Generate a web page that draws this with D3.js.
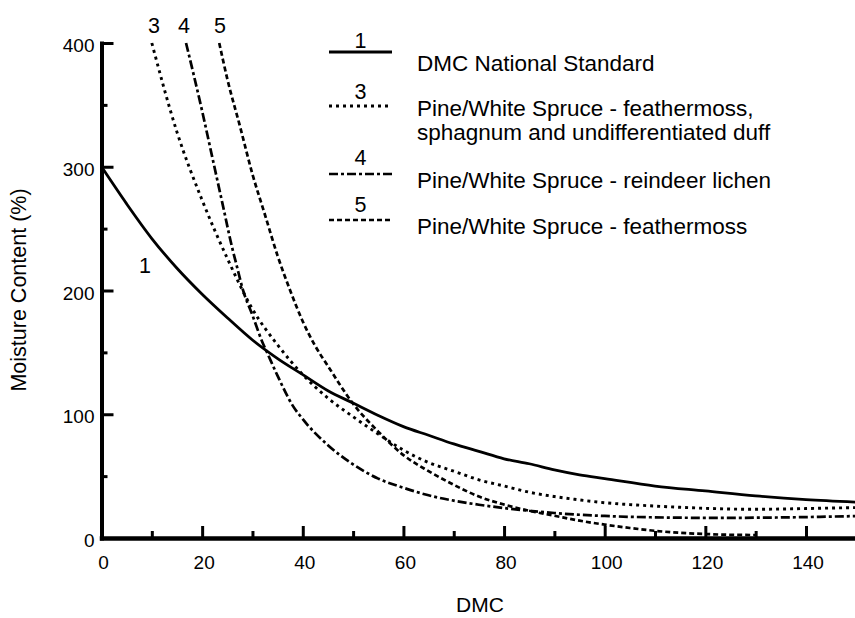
<!DOCTYPE html>
<html><head><meta charset="utf-8">
<script src="https://cdn.jsdelivr.net/npm/d3@7"></script>
<style>
body{margin:0;background:#fff;}
svg{display:block;font-family:"Liberation Sans",Arial,Helvetica,sans-serif;}
</style></head><body>
<svg id="chart" width="855" height="618"></svg>
<script>
// ---- data ----
const xTickValues = [0, 20, 40, 60, 80, 100, 120, 140];
const xMinorTicks = [10, 30, 50, 70, 90, 110, 130];
const yTickValues = [0, 100, 200, 300, 400];
const yMinorTicks = [50, 150, 250, 350];

const seriesIds = ["1", "3", "4", "5"];
const seriesNames = [
  ["DMC National Standard"],
  ["Pine/White Spruce - feathermoss,", "sphagnum and undifferentiated duff"],
  ["Pine/White Spruce - reindeer lichen"],
  ["Pine/White Spruce - feathermoss"]
];

// 1: DMC National Standard
const dmc1 = [0,5,10,15,20,25,30,35,40,45,50,55,60,65,70,75,80,85,90,95,100,110,120,130,140,150];
const mc1  = [300,270,242,218,197,178,160,145,132,119,109,99,90,83,76,70,64,60,55,51,48,42,38,34,31,29];

// 3: Pine/White Spruce - feathermoss, sphagnum and undifferentiated duff
const dmc3 = [10,15,20,25,30,35,40,45,50,55,60,65,70,75,80,85,90,95,100,105,110,115,120,125,130,135,140,145,150];
const mc3  = [400,328,273,226,185,156,132,113,98,84,71,61,54,47,42,37,33.5,30.8,28.5,27,25.8,24.8,24,23.4,23.2,23.4,23.8,24.2,24.6];

// 4: Pine/White Spruce - reindeer lichen
const dmc4 = [16.8,20,22,24,26,27,28,30,32,33,35,38,40,45,50,55,60,65,70,75,80,85,90,95,100,105,110,115,120,125,130,135,140,145,150];
const mc4  = [400,345,308,271,234,218,202,180,158,149,131,107,96,75,59.5,48,40.6,34.5,30.2,26.9,24.2,22,20.2,18.8,17.8,17.1,16.7,16.4,16.3,16.3,16.4,16.6,16.9,17.3,17.7];

// 5: Pine/White Spruce - feathermoss
const dmc5 = [23.4,25,27.5,30,32.5,35,37.5,40,42.5,45,50,55,60,65,70,75,80,85,90,95,100,105,110,115,120,125,130];
const mc5  = [400,371,333,294,261,228,200,175,155,139,108.5,86,67,54,43,33.5,27,22,18,14,10.8,8.1,5.8,4.2,3.2,2.6,2.4];

// ---- drawing ----
const svg = d3.select("#chart");
const x = d3.scaleLinear().domain([0, 150]).range([101.5, 856.3]);
const y = d3.scaleLinear().domain([0, 400]).range([538, 43]);

const series = [
  {id: "1", xs: dmc1, ys: mc1, dash: null, w: 2.8},
  {id: "3", xs: dmc3, ys: mc3, dash: "3,4", w: 2.9},
  {id: "4", xs: dmc4, ys: mc4, dash: "9,3,3,3", w: 2.7},
  {id: "5", xs: dmc5, ys: mc5, dash: "5,3", w: 2.7}
];

const line = d3.line().x(d => x(d[0])).y(d => y(d[1])).curve(d3.curveMonotoneX);

svg.append("g").selectAll("path").data(series).join("path")
  .attr("d", s => line(s.xs.map((v, i) => [v, s.ys[i]])))
  .attr("fill", "none").attr("stroke", "#000")
  .attr("stroke-width", s => s.w)
  .attr("stroke-dasharray", s => s.dash);

// axes
function styleAxis(g, tw) {
  g.selectAll(".tick line").attr("stroke", "#000").attr("stroke-width", tw);
  g.selectAll(".tick text").attr("fill", "#000").attr("font-size", 19)
    .attr("font-family", '"Liberation Sans",Arial,sans-serif');
}
const yMinor = svg.append("g").attr("transform", `translate(${x(0)},0)`)
  .call(d3.axisLeft(y).tickValues(yMinorTicks).tickSize(-6).tickFormat(""));
yMinor.select(".domain").remove(); styleAxis(yMinor, 3);
const xMinor = svg.append("g").attr("transform", `translate(0,${y(0)})`)
  .call(d3.axisBottom(x).tickValues(xMinorTicks).tickSize(-7).tickFormat(""));
xMinor.select(".domain").remove(); styleAxis(xMinor, 3);

const yAx = svg.append("g").attr("transform", `translate(${x(0)},0)`)
  .call(d3.axisLeft(y).tickValues(yTickValues).tickSize(-12).tickSizeOuter(0).tickPadding(7));
yAx.select(".domain").attr("stroke", "#000").attr("stroke-width", 4).attr("stroke-linecap", "square");
styleAxis(yAx, 3);
yAx.selectAll(".tick text").attr("dy", "0.45em");

const xAx = svg.append("g").attr("transform", `translate(0,${y(0)})`)
  .call(d3.axisBottom(x).tickValues(xTickValues).tickSize(-12).tickSizeOuter(0).tickPadding(18));
xAx.select(".domain").attr("stroke", "#000").attr("stroke-width", 4.5).attr("stroke-linecap", "square");
styleAxis(xAx, 3);
xAx.selectAll(".tick text").attr("dx", "0.08em");

// axis titles
svg.append("text").attr("x", 480).attr("y", 612).attr("text-anchor", "middle")
  .attr("font-size", 21).text("DMC");
svg.append("text").attr("transform", "translate(26,290) rotate(-90)").attr("text-anchor", "middle")
  .attr("font-size", 21.5).text("Moisture Content (%)");

// curve labels
const labelPos = [[145, 273], [154, 33], [184, 33], [220, 33]];
svg.append("g").selectAll("text").data(seriesIds).join("text")
  .attr("x", (d, i) => labelPos[i][0]).attr("y", (d, i) => labelPos[i][1])
  .attr("text-anchor", "middle").attr("font-size", 21.5).text(d => d);

// legend
const legRows = [
  {num: 47.5, line: 52, text: 70.5},
  {num: 98.5, line: 106, text: 116},
  {num: 164.5, line: 174, text: 188},
  {num: 211.5, line: 220, text: 234}
];
const leg = svg.append("g");
series.forEach((s, i) => {
  const r = legRows[i];
  leg.append("text").attr("x", 360.5).attr("y", r.num).attr("text-anchor", "middle")
    .attr("font-size", 21.5).text(seriesIds[i]);
  leg.append("line").attr("x1", 329).attr("x2", 392).attr("y1", r.line).attr("y2", r.line)
    .attr("stroke", "#000").attr("stroke-width", s.w).attr("stroke-dasharray", s.dash);
  seriesNames[i].forEach((t, j) => {
    leg.append("text").attr("x", 417).attr("y", r.text + j * 24).attr("font-size", 22.5).text(t);
  });
});
</script>
</body></html>
